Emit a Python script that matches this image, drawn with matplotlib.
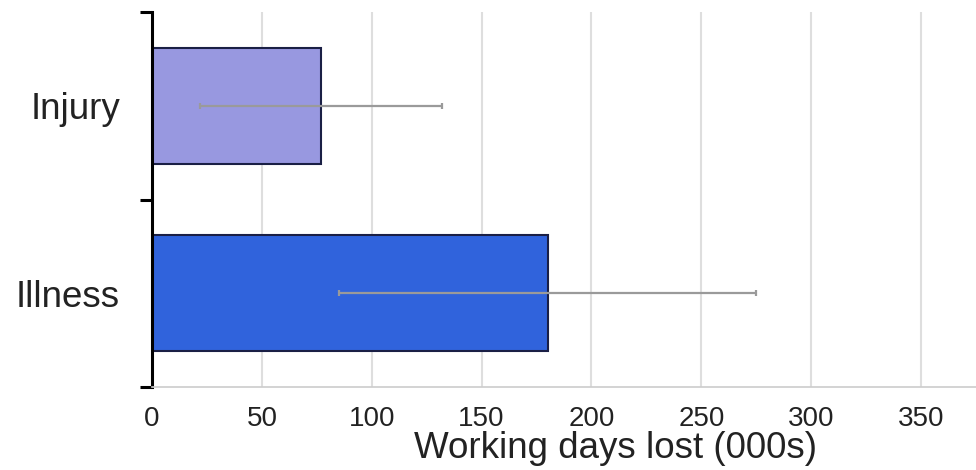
import matplotlib.pyplot as plt

categories = ['Injury', 'Illness']
days_lost = [77, 180]
errors = [55, 95]
bar_colors = ['#9898e0', '#3063dc']
x_ticks = [0, 50, 100, 150, 200, 250, 300, 350]

plt.rcParams['font.family'] = ['Liberation Sans', 'DejaVu Sans']

fig = plt.figure(figsize=(9.76, 4.70), dpi=100)
ax = fig.add_axes([152 / 976, 1 - 387 / 470, 1 - 152 / 976, (387 - 12) / 470])

ypos = list(range(len(categories)))
ax.barh(ypos, days_lost, height=0.62, color=bar_colors,
        edgecolor='#1a1f45', linewidth=1.5, zorder=2)
ax.errorbar(days_lost, ypos, xerr=errors, fmt='none', ecolor='#9a9a9a',
            elinewidth=1.6, capsize=2, capthick=1.6, zorder=3)

ax.set_xlim(0, 375)
ax.set_ylim(1.5, -0.5)
ax.set_xticks(x_ticks)
ax.set_xticklabels([str(t) for t in x_ticks], fontsize=20, color='#222222')
ax.tick_params(axis='x', length=0, pad=14)
ax.xaxis.grid(True, color='#dedede', linewidth=1.5, zorder=0)
ax.set_axisbelow(True)

ax.set_yticks(ypos)
ax.set_yticklabels(categories, fontsize=26.5, color='#222222')
ax.tick_params(axis='y', which='major', length=0, pad=23)
ax.set_yticks([-0.5, 0.5, 1.5], minor=True)
ax.tick_params(axis='y', which='minor', length=9, width=2.2, color='black')

ax.set_xlabel('Working days lost (000s)', fontsize=26.5, color='#222222')
ax.xaxis.set_label_coords(0.562, -0.118)

for side in ['top', 'right']:
    ax.spines[side].set_visible(False)
ax.spines['left'].set_linewidth(2.2)
ax.spines['left'].set_color('black')
ax.spines['bottom'].set_color('#cccccc')
ax.spines['bottom'].set_linewidth(1.2)

fig.savefig('out.png', dpi=100)
